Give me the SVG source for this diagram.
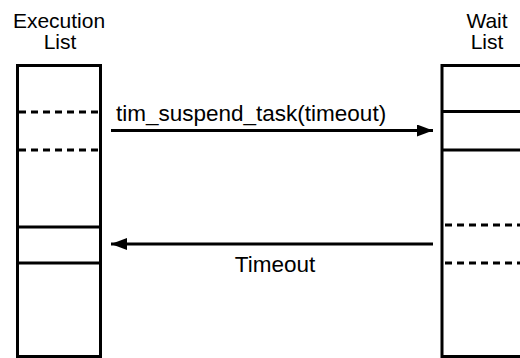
<svg xmlns="http://www.w3.org/2000/svg" width="520" height="358" viewBox="0 0 520 358">
  <style>
    .box { fill: none; stroke: #000; stroke-width: 3; }
    .slot { stroke: #000; stroke-width: 3; }
    .dash { stroke: #000; stroke-width: 3; stroke-dasharray: 7 5; }
    .conn { stroke: #000; stroke-width: 3; fill: none; }
    text { font-family: "Liberation Sans", Arial, sans-serif; font-size: 21px; fill: #000; }
    .label { font-size: 22.5px; }
    .mid { text-anchor: middle; }
  </style>
  <defs>
    <marker id="head" markerWidth="16" markerHeight="12" refX="16" refY="6" orient="auto" markerUnits="userSpaceOnUse">
      <path d="M0,0 L16,6 L0,12 Z" fill="#000"/>
    </marker>
  </defs>
  <rect width="520" height="358" fill="#fff"/>

  <g id="execution-list">
    <text class="mid" x="59" y="28">Execution</text>
    <text class="mid" x="60" y="49">List</text>
    <rect class="box" x="17.5" y="65.5" width="83" height="291"/>
    <line class="dash" x1="19" y1="112" x2="101" y2="112"/>
    <line class="dash" x1="19" y1="150" x2="101" y2="150"/>
    <line class="slot" x1="17" y1="227" x2="101" y2="227"/>
    <line class="slot" x1="17" y1="263" x2="101" y2="263"/>
  </g>

  <g id="wait-list">
    <text class="mid" x="487" y="28">Wait</text>
    <text class="mid" x="487" y="49">List</text>
    <path class="box" d="M522,65.5 H442 V356.5 H522"/>
    <line class="slot" x1="442" y1="111.5" x2="520" y2="111.5"/>
    <line class="slot" x1="442" y1="150" x2="520" y2="150"/>
    <line class="dash" x1="445" y1="225" x2="520" y2="225"/>
    <line class="dash" x1="445" y1="263" x2="520" y2="263"/>
  </g>

  <g id="connectors">
    <line class="conn" x1="111" y1="130.5" x2="433" y2="130.5" marker-end="url(#head)"/>
    <text class="label" x="116" y="121">tim_suspend_task(timeout)</text>
    <line class="conn" x1="433" y1="244" x2="111" y2="244" marker-end="url(#head)"/>
    <text class="label mid" x="275" y="272">Timeout</text>
  </g>
</svg>
